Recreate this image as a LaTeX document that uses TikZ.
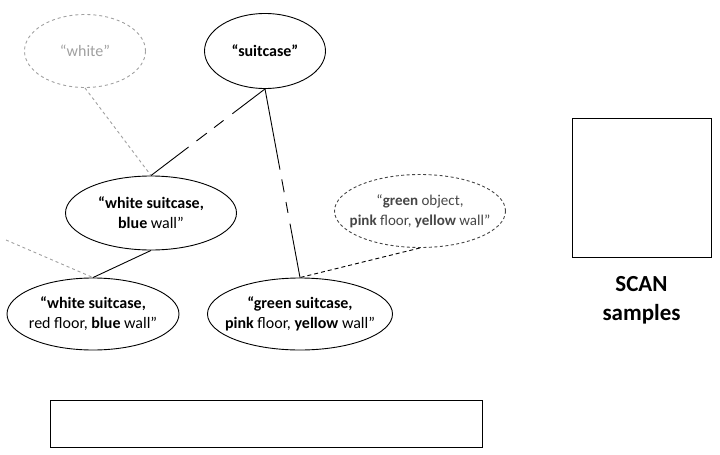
\documentclass[tikz,border=0pt]{standalone}
\usepackage{fontspec}
\setmainfont{Carlito}
\usetikzlibrary{shapes.geometric, positioning}
\definecolor{grisclaro}{RGB}{160,160,160}
\definecolor{grisoscuro}{RGB}{70,70,70}
\tikzset{
  concepto/.style={ellipse, draw, line width=0.9pt, align=center,
    font=\fontsize{16}{20}\selectfont, inner xsep=-30pt, inner ysep=0pt},
  tenue/.style={concepto, draw=grisclaro, text=grisclaro, dashed},
  medio/.style={concepto, draw=grisoscuro, text=grisoscuro, dash pattern=on 3pt off 2.5pt},
  caja/.style={draw, line width=1pt, inner sep=0pt}
}
\begin{document}
\begin{tikzpicture}[x=1pt, y=-1pt]
    \useasboundingbox (0,0) rectangle (720,455);
    % Dibuja los conceptos
    \node[tenue, minimum width=121pt, minimum height=73pt] (white) at (85,51) {``white''};
    \node[concepto, minimum width=121pt, minimum height=75pt] (suitcase) at (265,51) {\textbf{``suitcase''}};
    \node[concepto, minimum width=171pt, minimum height=74pt] (whiteBlue) at (151,213) {\textbf{``white suitcase,}\\\textbf{blue} wall''};
    \node[concepto, minimum width=172pt, minimum height=72pt] (whiteRed) at (93,314) {\textbf{``white suitcase,}\\red floor, \textbf{blue} wall''};
    \node[concepto, minimum width=185pt, minimum height=72pt] (greenSuit) at (300,314) {\textbf{``green suitcase,}\\\textbf{pink} floor, \textbf{yellow} wall''};
    \node[medio, minimum width=171pt, minimum height=73pt, font=\fontsize{15}{20}\selectfont] (greenObj) at (420,211) {``\textbf{green} object,\\\textbf{pink} floor, \textbf{yellow} wall''};

    % Dibuja las cajas
    \node[caja, minimum width=139pt, minimum height=139pt] (scanBox) at (641.5,187.5) {};
    \node[font=\fontsize{23}{29}\selectfont\bfseries, align=center, inner sep=0pt, below=19pt of scanBox] (scanText) {SCAN\\samples};
    \node[caja, minimum width=432pt, minimum height=47pt] (bottomBox) at (266,423.5) {};

    % Dibuja las conexiones
    \coordinate (leftEnd) at (6,240);
    \draw[grisclaro, line width=0.9pt, dash pattern=on 3pt off 3pt] (white.south) -- (whiteBlue.north);
    \draw[grisclaro, line width=0.9pt, dash pattern=on 3pt off 3pt] (leftEnd) -- (whiteRed.north);
    \draw[line width=0.9pt, dash pattern=on 41pt off 11pt on 12pt off 9pt on 13pt off 10pt on 60pt] (suitcase.south) -- (whiteBlue.north);
    \draw[line width=0.9pt, dash pattern=on 82pt off 10pt on 13pt off 10pt on 11pt off 11pt on 70pt] (suitcase.south) -- (greenSuit.north);
    \draw[line width=0.9pt] (whiteBlue.south) -- (whiteRed.north);
    \draw[line width=0.9pt, dash pattern=on 4pt off 3pt] (greenObj.south) -- (greenSuit.north);
\end{tikzpicture}
\end{document}
